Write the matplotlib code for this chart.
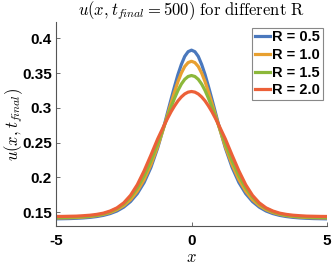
import numpy as np
import matplotlib
matplotlib.use('Agg')
import matplotlib.pyplot as plt

# x grid of the read-off points (denser around the peak)
x = [-5.0, -4.75, -4.5, -4.25, -4.0, -3.75, -3.5, -3.25, -3.0, -2.75, -2.5,
     -2.25, -2.0, -1.75, -1.5, -1.25, -1.0, -0.875, -0.75, -0.625, -0.5, -0.375, -0.25, -0.125, 0.0,
     0.125, 0.25, 0.375, 0.5, 0.625, 0.75, 0.875, 1.0, 1.25, 1.5, 1.75, 2.0, 2.25, 2.5,
     2.75, 3.0, 3.25, 3.5, 3.75, 4.0, 4.25, 4.5, 4.75, 5.0]

# u(x, t_final), one list per R
u_r05 = [0.1403, 0.1405, 0.1407, 0.1411, 0.1416, 0.1424, 0.1436, 0.1453, 0.1479, 0.1516, 0.1572,
         0.1652, 0.1766, 0.1925, 0.2141, 0.2421, 0.2758, 0.2945, 0.3129, 0.3308, 0.3479, 0.3624, 0.3740, 0.3808, 0.3830,
         0.3808, 0.3740, 0.3624, 0.3479, 0.3308, 0.3129, 0.2945, 0.2758, 0.2421, 0.2141, 0.1925, 0.1766, 0.1652, 0.1572,
         0.1516, 0.1479, 0.1453, 0.1436, 0.1424, 0.1416, 0.1411, 0.1407, 0.1405, 0.1403]
u_r10 = [0.1416, 0.1417, 0.1419, 0.1422, 0.1428, 0.1436, 0.1449, 0.1467, 0.1494, 0.1535, 0.1594,
         0.1679, 0.1801, 0.1966, 0.2180, 0.2440, 0.2745, 0.2910, 0.3072, 0.3230, 0.3377, 0.3500, 0.3595, 0.3651, 0.3670,
         0.3651, 0.3595, 0.3500, 0.3377, 0.3230, 0.3072, 0.2910, 0.2745, 0.2440, 0.2180, 0.1966, 0.1801, 0.1679, 0.1594,
         0.1535, 0.1494, 0.1467, 0.1449, 0.1436, 0.1428, 0.1422, 0.1419, 0.1417, 0.1416]
u_r15 = [0.1423, 0.1424, 0.1426, 0.1429, 0.1434, 0.1442, 0.1455, 0.1475, 0.1506, 0.1551, 0.1618,
         0.1717, 0.1849, 0.2023, 0.2238, 0.2483, 0.2749, 0.2884, 0.3015, 0.3138, 0.3250, 0.3342, 0.3410, 0.3451, 0.3465,
         0.3451, 0.3410, 0.3342, 0.3250, 0.3138, 0.3015, 0.2884, 0.2749, 0.2483, 0.2238, 0.2023, 0.1849, 0.1717, 0.1618,
         0.1551, 0.1506, 0.1475, 0.1455, 0.1442, 0.1434, 0.1429, 0.1426, 0.1424, 0.1423]
u_r20 = [0.1437, 0.1438, 0.1440, 0.1442, 0.1448, 0.1455, 0.1467, 0.1485, 0.1516, 0.1561, 0.1633,
         0.1741, 0.1894, 0.2092, 0.2317, 0.2551, 0.2758, 0.2855, 0.2947, 0.3028, 0.3100, 0.3157, 0.3200, 0.3226, 0.3235,
         0.3226, 0.3200, 0.3157, 0.3100, 0.3028, 0.2947, 0.2855, 0.2758, 0.2551, 0.2317, 0.2092, 0.1894, 0.1741, 0.1633,
         0.1561, 0.1516, 0.1485, 0.1467, 0.1455, 0.1448, 0.1442, 0.1440, 0.1438, 0.1437]

labels = ['R = 0.5', 'R = 1.0', 'R = 1.5', 'R = 2.0']
colors = ['#4A78BD', '#E8A030', '#8CB83A', '#EC6038']

plt.rcParams['mathtext.fontset'] = 'cm'
plt.rcParams['font.family'] = ['Liberation Sans', 'DejaVu Sans']

fig = plt.figure(figsize=(3.32, 2.66), dpi=100)
ax = fig.add_axes([56/332, 40/266, 271/332, 204/266])

for u, lab, c in zip([u_r05, u_r10, u_r15, u_r20], labels, colors):
    ax.plot(x, u, color=c, lw=2.3, label=lab)

ax.set_xlim(-5, 5)
ax.set_ylim(0.13, 0.4235)
ax.set_xticks([-5, 0, 5])
ax.set_xticklabels(['-5', '0', '5'])
ax.set_yticks([0.15, 0.2, 0.25, 0.3, 0.35, 0.4])
ax.set_yticklabels(['0.15', '0.2', '0.25', '0.3', '0.35', '0.4'])

for s in ['top', 'right']:
    ax.spines[s].set_visible(False)
for s in ['left', 'bottom']:
    ax.spines[s].set_color('#555555')
    ax.spines[s].set_linewidth(0.8)
ax.tick_params(direction='in', length=3, width=0.6, color='#555555',
               labelsize=11)
ax.tick_params(axis='x', pad=6)
ax.tick_params(axis='y', pad=3)
for t in ax.get_xticklabels() + ax.get_yticklabels():
    t.set_fontweight('bold')

ax.set_title(r'$u(x,t_{final}=500)\ \mathrm{for\ different\ R}$', fontsize=12, pad=4)
ax.set_xlabel(r'$x$', fontsize=12, labelpad=1)
ax.set_ylabel(r'$u(x,t_{final})$', fontsize=12, labelpad=-2)

leg = ax.legend(loc='upper right', bbox_to_anchor=(0.99, 0.98),
                prop={'weight': 'bold', 'size': 10.5},
                handlelength=1.0, handletextpad=0.15, labelspacing=0.25,
                borderpad=0.2, borderaxespad=0.1, fancybox=False, framealpha=1)
leg.get_frame().set_edgecolor('#888888')
leg.get_frame().set_linewidth(0.8)

fig.savefig('out.png', dpi=100)
